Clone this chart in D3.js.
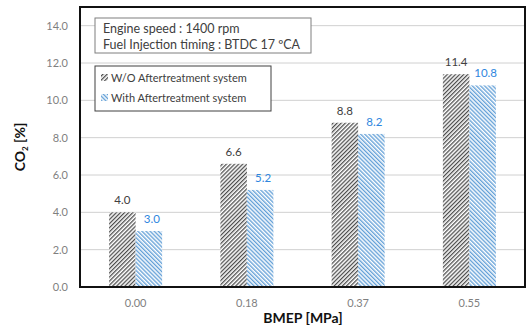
<!DOCTYPE html>
<html>
<head>
<meta charset="utf-8">
<script src="https://cdn.jsdelivr.net/npm/d3@7"></script>
<style>
  body { margin: 0; background: #fff; }
  text { font-family: Lato, "Open Sans", sans-serif; }
</style>
</head>
<body>
<div id="chart"></div>
<script>
// data
const categories = ["0.00", "0.18", "0.37", "0.55"];
const seriesNames = ["W/O Aftertreatment system", "With Aftertreatment system"];
const withoutAT = [4.0, 6.6, 8.8, 11.4];
const withAT = [3.0, 5.2, 8.2, 10.8];
const yTicks = [0, 2, 4, 6, 8, 10, 12, 14];

const W = 532, H = 336;
const m = { left: 80, right: 7, top: 7, bottom: 49 };

const svg = d3.select("#chart").append("svg")
  .attr("width", W).attr("height", H);

// hatch patterns
const defs = svg.append("defs");
function hatch(id, color, dir, sw) {
  const p = defs.append("pattern")
    .attr("id", id).attr("patternUnits", "userSpaceOnUse")
    .attr("width", 2.9).attr("height", 2.9)
    .attr("patternTransform", "rotate(" + dir + ")");
  p.append("rect").attr("width", 2.9).attr("height", 2.9).attr("fill", "#fff");
  p.append("line").attr("x1", 0.7).attr("y1", 0).attr("x2", 0.7).attr("y2", 2.9)
    .attr("stroke", color).attr("stroke-width", sw);
}
hatch("hBlack", "#262626", 45, 1.05);
hatch("hBlue", "#5b9bd5", -45, 1.3);

const x = d3.scaleBand().domain(categories)
  .range([m.left, W - m.right]);
const y = d3.scaleLinear().domain([0, 15])
  .range([H - m.bottom, m.top]);

const barW = 26.5;

// gridlines
svg.append("g")
  .selectAll("line").data(yTicks.filter(d => d > 0)).enter()
  .append("line")
  .attr("x1", m.left).attr("x2", W - m.right)
  .attr("y1", d => y(d)).attr("y2", d => y(d))
  .attr("stroke", "#d0d0d0").attr("stroke-width", 1);

// y tick labels
svg.append("g")
  .selectAll("text").data(yTicks).enter()
  .append("text")
  .attr("x", 68).attr("y", d => y(d) + 4)
  .attr("text-anchor", "end")
  .attr("font-size", 11).attr("fill", "#7f7f7f")
  .text(d => d.toFixed(1));

// x tick labels
svg.append("g")
  .selectAll("text").data(categories).enter()
  .append("text")
  .attr("x", d => x(d) + x.bandwidth() / 2).attr("y", 307)
  .attr("text-anchor", "middle")
  .attr("font-size", 11).attr("fill", "#7f7f7f")
  .text(d => d);

// bars
const series = [
  { vals: withoutAT, fill: "url(#hBlack)", color: "#404040", off: -barW, lblDx: 0, lblDy: -8 },
  { vals: withAT, fill: "url(#hBlue)", color: "#2e86de", off: 0, lblDx: 3, lblDy: -8 }
];
series.forEach(s => {
  svg.append("g").selectAll("rect").data(categories).enter()
    .append("rect")
    .attr("x", (d, i) => x(d) + x.bandwidth() / 2 + s.off)
    .attr("y", (d, i) => y(s.vals[i]))
    .attr("width", barW)
    .attr("height", (d, i) => y(0) - y(s.vals[i]))
    .attr("fill", s.fill);
  svg.append("g").selectAll("text").data(categories).enter()
    .append("text")
    .attr("x", (d, i) => x(d) + x.bandwidth() / 2 + s.off + barW / 2 + s.lblDx)
    .attr("y", (d, i) => y(s.vals[i]) + s.lblDy)
    .attr("text-anchor", "middle")
    .attr("font-size", 11.5).attr("fill", s.color)
    .text((d, i) => s.vals[i].toFixed(1));
});

// plot border
svg.append("rect")
  .attr("x", m.left).attr("y", m.top)
  .attr("width", W - m.left - m.right).attr("height", H - m.top - m.bottom)
  .attr("fill", "none").attr("stroke", "#111").attr("stroke-width", 2);

// info box
const info = svg.append("g");
info.append("rect").attr("x", 95).attr("y", 18).attr("width", 216).attr("height", 35)
  .attr("fill", "#fff").attr("stroke", "#7f7f7f").attr("stroke-width", 1);
info.append("text").attr("x", 103).attr("y", 33).attr("font-size", 12.5).attr("fill", "#404040")
  .text("Engine speed : 1400  rpm");
info.append("text").attr("x", 103).attr("y", 49).attr("font-size", 12.5).attr("fill", "#404040")
  .text("Fuel Injection timing : BTDC 17 \u00baCA");

// legend
const lg = svg.append("g");
lg.append("rect").attr("x", 95).attr("y", 66).attr("width", 176).attr("height", 45)
  .attr("fill", "#fff").attr("stroke", "#404040").attr("stroke-width", 1);
seriesNames.forEach((n, i) => {
  const yy = 74 + i * 20;
  lg.append("rect").attr("x", 101).attr("y", yy).attr("width", 7).attr("height", 7)
    .attr("fill", i === 0 ? "url(#hBlack)" : "url(#hBlue)");
  lg.append("text").attr("x", 111).attr("y", yy + 7.5)
    .attr("font-size", 11).attr("fill", "#404040").text(n);
});

// axis titles
svg.append("text")
  .attr("transform", "translate(25,147) rotate(-90)")
  .attr("text-anchor", "middle")
  .attr("font-size", 14).attr("font-weight", "bold").attr("fill", "#111")
  .html('CO<tspan font-size="8" dy="3">2</tspan><tspan dy="-3"> [%]</tspan>');

svg.append("text")
  .attr("x", 303).attr("y", 323)
  .attr("text-anchor", "middle")
  .attr("font-size", 14).attr("font-weight", "bold").attr("fill", "#111")
  .text("BMEP [MPa]");
</script>
</body>
</html>
